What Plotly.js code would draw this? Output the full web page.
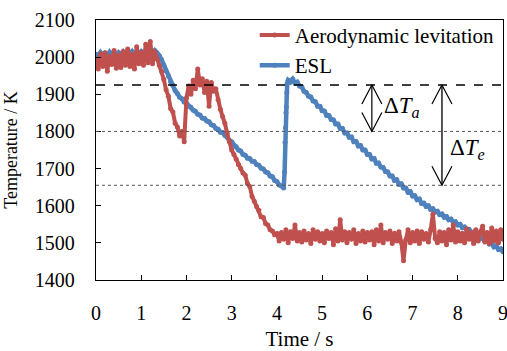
<!DOCTYPE html>
<html>
<head>
<meta charset="utf-8">
<script src="https://cdn.plot.ly/plotly-3.0.1.min.js"></script>
<style>html,body{margin:0;padding:0;background:#fff;}#chart{width:507px;height:351px;}</style>
</head>
<body>
<div id="chart"></div>
<script>
// ---- data ----
const dt = 0.05; // sampling step (s)

// Aerodynamic levitation temperature (K), t = 0 .. 9 s
const redTemp = [
  1995, 1968, 2008, 1975, 2012, 1962, 2002, 1980, 2018, 1970,
  2005, 1972, 2015, 1978, 2022, 1975, 2008, 1968, 2028, 1982,
  2012, 1978, 2035, 1985, 2042, 1982, 2015, 1995, 1978, 1962,
  1940, 1912, 1895, 1862, 1852, 1822, 1812, 1788, 1800, 1772,
  1890, 1922, 1900, 1938, 1915, 1968, 1925, 1942, 1905, 1935,
  1868, 1932, 1908, 1915, 1885, 1860, 1840, 1822, 1795, 1772,
  1750, 1738, 1725, 1710, 1700, 1688, 1682, 1660, 1652, 1625,
  1612, 1598, 1588, 1570, 1568, 1552, 1548, 1535, 1532, 1522,
  1525, 1505, 1528, 1510, 1535, 1500, 1530, 1512, 1548, 1505,
  1528, 1502, 1532, 1508, 1525, 1498, 1535, 1510, 1530, 1505,
  1525, 1500, 1532, 1512, 1528, 1495, 1538, 1505, 1562, 1508,
  1530, 1500, 1528, 1510, 1535, 1498, 1525, 1505, 1532, 1502,
  1528, 1508, 1530, 1495, 1535, 1505, 1548, 1500, 1528, 1510,
  1532, 1498, 1526, 1505, 1530, 1502, 1452, 1508, 1535, 1500,
  1528, 1505, 1532, 1498, 1530, 1510, 1525, 1502, 1535, 1578,
  1512, 1500, 1530, 1505, 1528, 1495, 1535, 1508, 1548, 1502,
  1530, 1505, 1526, 1500, 1538, 1510, 1528, 1498, 1535, 1505,
  1530, 1545, 1502, 1528, 1498, 1540, 1505, 1532, 1500, 1535, 1510
];

// ESL temperature (K): before recalescence, t = 0 .. 4.15 s
const eslTempA = [
  2008, 2000, 2012, 2003, 2010, 2002, 2013, 2004, 2011, 2003,
  2012, 2005, 2014, 2004, 2012, 2006, 2015, 2005, 2013, 2007,
  2015, 2008, 2016, 2009, 2017, 2010, 2018, 2012, 2004, 1993,
  1978, 1963, 1949, 1934, 1924, 1910, 1902, 1892, 1888, 1879,
  1876, 1868, 1865, 1857, 1854, 1846, 1844, 1836, 1835, 1828,
  1826, 1818, 1816, 1808, 1806, 1798, 1797, 1789, 1786, 1776,
  1772, 1763, 1759, 1750, 1747, 1738, 1736, 1728, 1727, 1720,
  1719, 1711, 1709, 1701, 1699, 1691, 1689, 1680, 1678, 1668,
  1665, 1656, 1653, 1648
];
// ESL recalescence jump
const eslJumpTime = [4.17, 4.18, 4.19, 4.20, 4.21, 4.22, 4.23];
const eslJumpTemp = [1690, 1770, 1810, 1850, 1866, 1904, 1930];
// ESL after recalescence, t = 4.25 .. 9 s
const eslStartB = 4.25;
const eslTempB = [
  1938, 1933, 1941, 1930, 1933, 1922, 1920, 1908, 1905, 1895,
  1893, 1882, 1880, 1868, 1868, 1856, 1855, 1843, 1843, 1832,
  1831, 1820, 1820, 1808, 1808, 1796, 1796, 1784, 1785, 1772,
  1773, 1761, 1762, 1750, 1750, 1738, 1738, 1726, 1727, 1714,
  1715, 1704, 1703, 1692, 1691, 1680, 1680, 1668, 1670, 1658,
  1659, 1648, 1648, 1636, 1638, 1626, 1627, 1616, 1618, 1606,
  1607, 1598, 1600, 1590, 1592, 1583, 1585, 1576, 1578, 1569,
  1571, 1562, 1564, 1555, 1557, 1548, 1550, 1541, 1543, 1534,
  1536, 1527, 1529, 1519, 1522, 1512, 1514, 1504, 1507, 1497,
  1499, 1489, 1492, 1482, 1484, 1476
];

// reference levels (K) and annotation positions
const dashedLevel = 1925;
const dottedLevels = [1800, 1655];
const arrowA = {x: 6.1, top: 1925, bottom: 1800};
const arrowE = {x: 7.65, top: 1925, bottom: 1655};
const labelA = {x: 6.33, y: 1866, text: 'Δ<i>T</i><sub><i>a</i></sub>'};
const labelE = {x: 7.78, y: 1752, text: 'Δ<i>T</i><sub><i>e</i></sub>'};

const seriesNames = ['Aerodynamic levitation', 'ESL'];
const xTicks = [0,1,2,3,4,5,6,7,8,9];
const yTicks = [1400,1500,1600,1700,1800,1900,2000,2100];

// ---- build traces ----
const redTime = redTemp.map((_, i) => +(i * dt).toFixed(2));
const eslTime = eslTempA.map((_, i) => +(i * dt).toFixed(2))
  .concat(eslJumpTime)
  .concat(eslTempB.map((_, i) => +(eslStartB + i * dt).toFixed(2)));
const eslTemp = eslTempA.concat(eslJumpTemp).concat(eslTempB);

const RED = '#C0504D', BLUE = '#4F81BD';
const FONT = 'Liberation Serif, Times New Roman, serif';

const traces = [
  {x: eslTime, y: eslTemp, name: seriesNames[1], type: 'scatter', mode: 'lines+markers',
   line: {color: BLUE, width: 4.5}, marker: {color: BLUE, size: 5}, legendrank: 2},
  {x: redTime, y: redTemp, name: seriesNames[0], type: 'scatter', mode: 'lines+markers',
   line: {color: RED, width: 4}, marker: {color: RED, size: 5}, legendrank: 1}
];

function vHead(x, y, dir) {
  return {type: 'path', xref: 'x', yref: 'y', xsizemode: 'pixel', ysizemode: 'pixel',
    xanchor: x, yanchor: y, path: dir > 0 ? 'M-10,-19 L0,0 L10,-19' : 'M-10,19 L0,0 L10,19',
    line: {color: '#000', width: 1.2}, layer: 'above'};
}

const shapes = [
  {type: 'line', xref: 'paper', x0: 0, x1: 1, yref: 'y', y0: dashedLevel, y1: dashedLevel,
   line: {color: '#000', width: 1.3, dash: 'dash'}, layer: 'above'}
].concat(dottedLevels.map(v => ({type: 'line', xref: 'paper', x0: 0, x1: 1, yref: 'y', y0: v, y1: v,
   line: {color: '#555', width: 1, dash: 'dot'}, layer: 'above'})))
 .concat([
  {type: 'line', xref: 'x', yref: 'y', x0: arrowA.x, x1: arrowA.x, y0: arrowA.top, y1: arrowA.bottom,
   line: {color: '#000', width: 1.2}, layer: 'above'},
  vHead(arrowA.x, arrowA.top, 1), vHead(arrowA.x, arrowA.bottom, -1),
  {type: 'line', xref: 'x', yref: 'y', x0: arrowE.x, x1: arrowE.x, y0: arrowE.top, y1: arrowE.bottom,
   line: {color: '#444', width: 1.8}, layer: 'above'},
  vHead(arrowE.x, arrowE.top, 1), vHead(arrowE.x, arrowE.bottom, -1)
 ]);

const annotations = [labelA, labelE].map(l => ({x: l.x, y: l.y, xref: 'x', yref: 'y', text: l.text,
  showarrow: false, xanchor: 'left', yanchor: 'middle', font: {family: FONT, size: 23, color: '#000'}}));

const layout = {
  width: 507, height: 351,
  margin: {l: 96, r: 4, t: 20, b: 71},
  paper_bgcolor: '#fff', plot_bgcolor: '#fff',
  font: {family: FONT, size: 20, color: '#000'},
  showlegend: true,
  legend: {x: 0.39, y: 1.02, xanchor: 'left', yanchor: 'top', bgcolor: 'rgba(0,0,0,0)',
    font: {family: FONT, size: 21, color: '#000'}, tracegroupgap: 0},
  xaxis: {range: [0, 9], tickvals: xTicks, ticks: 'inside', ticklen: 5, tickcolor: '#000',
    showline: true, linecolor: '#000', linewidth: 1.3, mirror: true, showgrid: false, zeroline: false,
    ticklabelstandoff: 15, ticklabeloverflow: 'allow', tickfont: {family: FONT, size: 20, color: '#000'},
    title: {text: 'Time / s', standoff: 9, font: {family: FONT, size: 21, color: '#000'}}},
  yaxis: {range: [1400, 2100], tickvals: yTicks, ticks: 'inside', ticklen: 5, tickcolor: '#000',
    showline: true, linecolor: '#000', linewidth: 1.3, mirror: true, showgrid: false, zeroline: false,
    ticklabelstandoff: 16, tickfont: {family: FONT, size: 20, color: '#000'},
    title: {text: 'Temperature / K', standoff: 12, font: {family: FONT, size: 18, color: '#000'}}},
  shapes: shapes,
  annotations: annotations
};

Plotly.newPlot('chart', traces, layout, {displayModeBar: false, staticPlot: true});
</script>
</body>
</html>
